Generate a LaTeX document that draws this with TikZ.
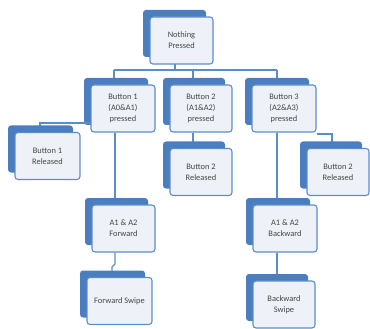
\documentclass[tikz,border=0pt]{standalone}
\usepackage{fontspec}
\setmainfont{Carlito}
\definecolor{backblue}{HTML}{4A7EBF}
\definecolor{lineblue}{HTML}{5B8DCB}
\definecolor{frontfill}{HTML}{EEF2F8}
\definecolor{txt}{HTML}{454545}
\begin{document}
\begin{tikzpicture}[x=1pt,y=-1pt,
  conn/.style={draw=lineblue,line width=1.1pt},
  frontbox/.style={draw=lineblue,fill=frontfill,line width=1.1pt,rounded corners=3pt,
    text=txt,font=\fontsize{8.4}{11}\selectfont,align=center,inner sep=0pt,
    minimum width=#1,minimum height=47pt},
  backbox/.style={fill=backblue,rounded corners=3pt}]
\useasboundingbox (0,0) rectangle (370,329);
% junction coordinates
\coordinate (npj) at (175,70);
\coordinate (bus1) at (114,70);
\coordinate (bus2) at (193,70);
\coordinate (bus3) at (277,70);
\coordinate (r1j) at (40,123);
\coordinate (r3j) at (332,134);
\coordinate (fj1) at (115,264);
\coordinate (fj2) at (112,267);
\newcommand{\statebox}[5]{%
  \fill[backbox] (#2-#4/2-7,#3-23.5-7) rectangle (#2+#4/2-7,#3+23.5-7);
  \node[frontbox=#4pt] (#1) at (#2,#3) {#5};}
% top bus
\draw[conn] (175,64) -- (npj);
\draw[conn] (bus1) -- (bus3);
\draw[conn] (bus1) -- (114,85);
\draw[conn] (bus2) -- (193,85);
\draw[conn] (bus3) -- (277,85);
\statebox{np}{181.5}{40.5}{63}{Nothing\\Pressed}
\statebox{b1}{123}{108.5}{64}{Button 1\\(A0\&A1)\\pressed}
\statebox{b2}{201}{108.5}{62}{Button 2\\(A1\&A2)\\pressed}
\statebox{b3}{284}{108.5}{64}{Button 3\\(A2\&A3)\\pressed}
\draw[conn] (b1.west |- r1j) -- (r1j) -- (40,132);
\draw[conn] (b2.south -| bus2) -- (193,148);
\draw[conn] (b3.east |- r3j) -- (r3j) -- (332,148);
\draw[conn] (b1.south -| fj1) -- (115,205);
\draw[conn] (b3.south -| bus3) -- (277,205);
\statebox{r1}{47.5}{156}{65}{Button 1\\Released}
\statebox{r2}{201}{172}{62}{Button 2\\Released}
\statebox{r3}{338}{172}{62}{Button 2\\Released}
\statebox{fw}{123.5}{228.5}{63}{A1 \& A2\\Forward}
\statebox{bw}{285}{228.5}{64}{A1 \& A2\\Backward}
\draw[conn] (fw.south -| fj1) -- (fj1) -- (fj2) -- (112,277);
\draw[conn] (bw.south -| bus3) -- (277,282);
\statebox{fs}{119.5}{301}{65}{Forward Swipe}
\statebox{bs}{284}{304.5}{62}{Backward\\Swipe}
\end{tikzpicture}
\end{document}
